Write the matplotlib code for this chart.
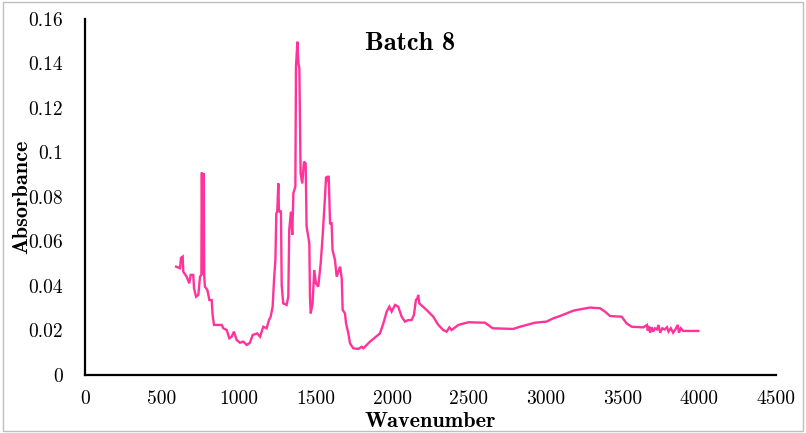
import matplotlib
matplotlib.use("Agg")
import matplotlib.pyplot as plt
from matplotlib.patches import Rectangle

wavenumber = [593, 619, 625, 636, 640, 662, 679, 688, 705, 710, 723, 738, 749, 758,
              760, 762, 765, 768, 771, 774, 776, 781, 797, 810, 825, 831, 840, 890, 901, 923,
              940, 955, 970, 988, 1009, 1031, 1053, 1074, 1092, 1122, 1140, 1161,
              1183, 1198, 1209, 1222, 1231, 1240, 1246, 1252, 1259, 1263, 1268, 1276,
              1281, 1291, 1313, 1324, 1330, 1341, 1350, 1357, 1370, 1374, 1383, 1390,
              1396, 1404, 1415, 1426, 1437, 1443, 1461, 1465, 1470, 1476, 1482, 1493,
              1504, 1519, 1535, 1548, 1563, 1570, 1574, 1580, 1587, 1596, 1606, 1612,
              1628, 1639, 1661, 1672, 1678, 1693, 1700, 1715, 1726, 1747, 1780, 1802,
              1813, 1856, 1921, 1943, 1965, 1982, 1997, 2019, 2040, 2062, 2084, 2105,
              2127, 2142, 2155, 2165, 2170, 2177, 2225, 2268, 2301, 2333, 2355, 2373,
              2388, 2431, 2496, 2605, 2655, 2789, 2833, 2876, 2930, 3006, 3050, 3093,
              3137, 3180, 3223, 3289, 3354, 3386, 3419, 3495, 3527, 3560, 3636, 3660,
              3665, 3672, 3680, 3690, 3700, 3712, 3725, 3735, 3745, 3760, 3775, 3790,
              3800, 3815, 3830, 3845, 3860, 3868, 3880, 3895, 3920, 3994]
absorbance = [0.0487, 0.0480, 0.0526, 0.0532, 0.0464, 0.0442, 0.0412, 0.0450, 0.0450, 0.0390,
              0.0352, 0.0360, 0.0442, 0.0450, 0.0906, 0.0910, 0.0450, 0.0906, 0.0450, 0.0906,
              0.0450, 0.0397,
              0.0382, 0.0337, 0.0337, 0.0270, 0.0225, 0.0225, 0.0210, 0.0202, 0.0165, 0.0172,
              0.0195, 0.0157, 0.0145, 0.0150, 0.0135, 0.0145, 0.0180, 0.0187, 0.0172, 0.0217,
              0.0210, 0.0247, 0.0262, 0.0307, 0.0427, 0.0517, 0.0727, 0.0734, 0.0861, 0.0742,
              0.0734, 0.0734, 0.0404, 0.0322, 0.0315, 0.0352, 0.0652, 0.0734, 0.0630, 0.0817,
              0.0847, 0.1386, 0.1498, 0.1400, 0.1378, 0.0906, 0.0861, 0.0959, 0.0951, 0.0667,
              0.0592, 0.0352, 0.0277, 0.0300, 0.0322, 0.0472, 0.0412, 0.0397, 0.0502, 0.0629,
              0.0801, 0.0891, 0.0870, 0.0891, 0.0891, 0.0682, 0.0682, 0.0562, 0.0517, 0.0442,
              0.0487, 0.0434, 0.0292, 0.0277, 0.0232, 0.0187, 0.0142, 0.0120, 0.0117, 0.0127,
              0.0120, 0.0150, 0.0187, 0.0232, 0.0285, 0.0307, 0.0285, 0.0315, 0.0307, 0.0262,
              0.0240, 0.0247, 0.0247, 0.0270, 0.0337, 0.0345, 0.0360, 0.0322, 0.0292, 0.0262,
              0.0225, 0.0202, 0.0195, 0.0214, 0.0202, 0.0225, 0.0237, 0.0235, 0.0210, 0.0207,
              0.0217, 0.0225, 0.0235, 0.0240, 0.0255, 0.0265, 0.0277, 0.0289, 0.0295, 0.0303,
              0.0300, 0.0285, 0.0265, 0.0262, 0.0232, 0.0217, 0.0214, 0.0225, 0.0200, 0.0220,
              0.0190, 0.0215, 0.0195, 0.0210, 0.0205, 0.0225, 0.0190, 0.0210, 0.0205, 0.0215,
              0.0195, 0.0210, 0.0190, 0.0205, 0.0225, 0.0190, 0.0210, 0.0198, 0.0198, 0.0198]

x_ticks = [0, 500, 1000, 1500, 2000, 2500, 3000, 3500, 4000, 4500]
y_ticks = [0, 0.02, 0.04, 0.06, 0.08, 0.1, 0.12, 0.14, 0.16]
y_tick_labels = ["0", "0.02", "0.04", "0.06", "0.08", "0.1", "0.12", "0.14", "0.16"]

plt.rcParams["font.family"] = ["cmr10", "DejaVu Serif"]
plt.rcParams["axes.formatter.use_mathtext"] = True

fig = plt.figure(figsize=(8.06, 4.33), dpi=100)
ax = fig.add_axes([85/806, 58/433, 691/806, 356/433])

ax.plot(wavenumber, absorbance, color="#FF3399", lw=1.7, solid_joinstyle="miter")

ax.set_xlim(0, 4500)
ax.set_ylim(0, 0.16)
ax.set_xticks(x_ticks)
ax.set_xticklabels([str(t) for t in x_ticks])
ax.set_yticks(y_ticks)
ax.set_yticklabels(y_tick_labels)
ax.tick_params(axis="both", length=0, labelsize=14)
ax.tick_params(axis="y", pad=16)
ax.tick_params(axis="x", pad=11)

for s in ["top", "right"]:
    ax.spines[s].set_visible(False)
for s in ["left", "bottom"]:
    ax.spines[s].set_linewidth(1.6)
    ax.spines[s].set_color("black")

ax.set_xlabel("Wavenumber", family="cmb10", fontsize=16)
ax.xaxis.set_label_coords(0.5, -0.13)
ax.xaxis.label.set_va("center")
ax.set_ylabel("Absorbance", family="cmb10", fontsize=16)
ax.yaxis.set_label_coords(-0.092, 0.5)
ax.yaxis.label.set_va("center")

ax.text(0.47, 0.93, "Batch 8", transform=ax.transAxes, family="cmb10",
        fontsize=19, ha="center", va="center")

fig.patches.append(Rectangle((0.004, 0.004), 0.992, 0.992, transform=fig.transFigure,
                             fill=False, edgecolor="#BFBFBF", lw=1.0))

fig.savefig("out.png", dpi=100)
